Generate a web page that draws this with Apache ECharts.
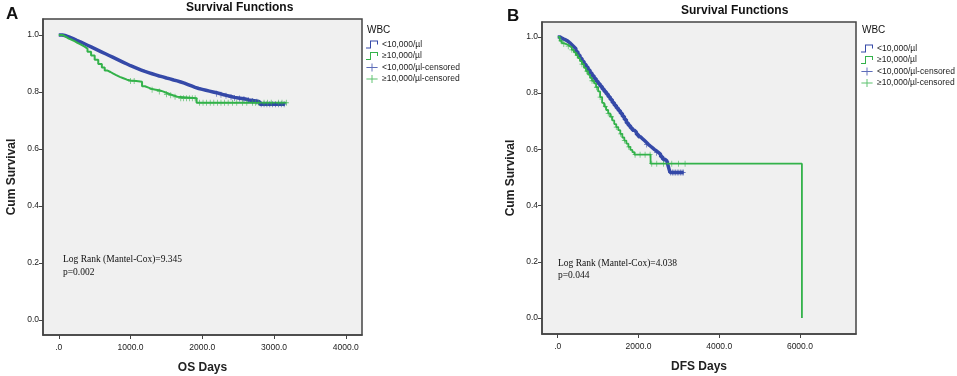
<!DOCTYPE html>
<html>
<head>
<meta charset="utf-8">
<script src="https://cdn.jsdelivr.net/npm/echarts@6/dist/echarts.min.js"></script>
<style>
html, body { margin: 0; background: #fff; }
#chart { width: 957px; height: 376px; }
</style>
</head>
<body>
<div id="chart"></div>
<script>
// 面板A: OS 生存曲线 (KM 阶梯)
var osTimeLow = [0, 50, 100, 150, 200, 250, 300, 350, 400, 450, 500, 550, 600, 650, 700, 750, 800, 850, 900, 950, 1000, 1050, 1100, 1150, 1200, 1250, 1300, 1350, 1400, 1450, 1500, 1550, 1600, 1650, 1700, 1750, 1800, 1850, 1900, 1950, 2000, 2050, 2100, 2150, 2200, 2250, 2300, 2350, 2400, 2450, 2500, 2550, 2600, 2650, 2700, 2750, 2800, 3150];
var osSurvLow = [1.0, 0.997, 0.992, 0.987, 0.981, 0.976, 0.970, 0.964, 0.958, 0.952, 0.946, 0.940, 0.934, 0.928, 0.922, 0.916, 0.910, 0.904, 0.898, 0.892, 0.887, 0.882, 0.877, 0.872, 0.868, 0.864, 0.860, 0.856, 0.853, 0.849, 0.846, 0.842, 0.839, 0.835, 0.831, 0.826, 0.821, 0.816, 0.812, 0.809, 0.806, 0.803, 0.800, 0.797, 0.794, 0.790, 0.787, 0.784, 0.781, 0.779, 0.777, 0.775, 0.772, 0.770, 0.768, 0.766, 0.757, 0.757];
var osTimeHigh = [0, 50, 100, 140, 180, 220, 260, 310, 360, 400, 450, 500, 550, 600, 640, 680, 720, 760, 800, 850, 900, 950, 1000, 1080, 1160, 1200, 1250, 1300, 1350, 1400, 1450, 1500, 1550, 1600, 1650, 1920, 3170];
var osSurvHigh = [1.0, 0.993, 0.987, 0.983, 0.978, 0.972, 0.966, 0.959, 0.952, 0.941, 0.928, 0.913, 0.898, 0.886, 0.875, 0.870, 0.864, 0.859, 0.853, 0.848, 0.843, 0.840, 0.838, 0.836, 0.820, 0.815, 0.810, 0.808, 0.806, 0.802, 0.797, 0.792, 0.788, 0.783, 0.778, 0.762, 0.762];
var osCensLow = [2200, 2260, 2330, 2400, 2450, 2520, 2580, 2640, 2700, 2760, 2820, 2860, 2900, 2940, 2980, 3020, 3060, 3100, 3140];
var osCensHigh = [1000, 1050, 1300, 1400, 1500, 1560, 1620, 1700, 1740, 1780, 1820, 1860, 1900, 1960, 2010, 2060, 2110, 2160, 2210, 2260, 2310, 2360, 2420, 2480, 2560, 2620, 2700, 2740, 2780, 2860, 2910, 2960, 3060, 3110, 3170];

// 面板B: DFS 生存曲线
var dfsTimeLow = [0, 50, 100, 150, 200, 250, 300, 350, 400, 450, 500, 550, 600, 650, 700, 750, 800, 850, 900, 950, 1000, 1050, 1100, 1150, 1200, 1250, 1300, 1350, 1400, 1450, 1500, 1550, 1600, 1650, 1700, 1750, 1800, 1850, 1900, 1950, 2000, 2050, 2100, 2150, 2200, 2250, 2300, 2350, 2400, 2450, 2500, 2550, 2600, 2650, 2700, 2740, 2780, 3120];
var dfsSurvLow = [1.0, 0.996, 0.992, 0.989, 0.985, 0.979, 0.972, 0.965, 0.958, 0.947, 0.936, 0.924, 0.913, 0.903, 0.893, 0.882, 0.872, 0.862, 0.852, 0.842, 0.833, 0.824, 0.815, 0.806, 0.797, 0.787, 0.777, 0.767, 0.757, 0.747, 0.738, 0.728, 0.718, 0.706, 0.694, 0.685, 0.676, 0.668, 0.661, 0.653, 0.645, 0.638, 0.631, 0.624, 0.617, 0.611, 0.605, 0.599, 0.594, 0.588, 0.582, 0.574, 0.565, 0.560, 0.556, 0.539, 0.518, 0.518];
var dfsTimeHigh = [0, 50, 100, 150, 200, 250, 300, 350, 400, 450, 500, 550, 600, 650, 700, 750, 800, 850, 900, 950, 1000, 1050, 1100, 1150, 1200, 1250, 1300, 1350, 1400, 1450, 1500, 1550, 1600, 1650, 1700, 1750, 1800, 1850, 1900, 2300, 6050];
var dfsSurvHigh = [1.0, 0.986, 0.978, 0.975, 0.972, 0.967, 0.962, 0.954, 0.945, 0.935, 0.925, 0.914, 0.903, 0.890, 0.878, 0.866, 0.854, 0.844, 0.835, 0.821, 0.806, 0.786, 0.765, 0.752, 0.740, 0.728, 0.716, 0.703, 0.690, 0.679, 0.668, 0.655, 0.642, 0.631, 0.620, 0.609, 0.598, 0.590, 0.581, 0.549, 0.0];
var dfsCensLow = [2200, 2450, 2620, 2700, 2800, 2840, 2880, 2920, 2960, 3000, 3040, 3080, 3110];
var dfsCensHigh = [80, 150, 260, 350, 480, 600, 720, 850, 960, 1050, 1180, 1250, 1330, 1450, 1560, 1650, 1760, 1916, 2040, 2164, 2288, 2330, 2454, 2618, 2826, 2990, 3155];

// 刻度
var osTicks = [0, 1000, 2000, 3000, 4000];
var dfsTicks = [0, 2000, 4000, 6000];
var survTicks = [0, 0.2, 0.4, 0.6, 0.8, 1.0];

var blue = '#3549a8';
var green = '#33b24a';
var font = 'Liberation Sans, Arial, sans-serif';
var serif = 'Liberation Serif, Times New Roman, serif';

//阶梯查值
function survAt(times, surv, t) {
    var s = surv[0];
    for (var i = 0; i < times.length; i++) {
        if (times[i] <= t) s = surv[i];
    }
    return s;
}
function pairs(times, surv) {
    return times.map(function(t, i) { return [t, surv[i]]; });
}
function censPairs(cens, times, surv) {
    return cens.map(function(t) { return [t, survAt(times, surv, t)]; });
}

var stepIcon = 'path://M0,7H4V0H12V4H11V1H5V8H0Z';
var plusIcon = 'path://M0,4.4H14V5.6H0Z M6.4,0H7.6V10H6.4Z';
var censSymbol = 'path://M0,4.3H10V5.7H0Z M4.3,0H5.7V10H4.3Z';

function xAxisOf(idx, name, min, max, ticks) {
    return {
        gridIndex: idx, type: 'value', min: min, max: max,
        name: name, nameLocation: 'middle', nameGap: 27,
        nameTextStyle: { fontFamily: font, fontWeight: 'bold', fontSize: 12, color: '#222' },
        axisLine: { show: true, onZero: false, lineStyle: { color: '#444', width: 1.5 } },
        axisTick: { show: true, length: 4, customValues: ticks, lineStyle: { color: '#444' } },
        axisLabel: {
            customValues: ticks, fontFamily: font, fontSize: 8.5, color: '#222', margin: 8,
            formatter: function(v) { return v === 0 ? '.0' : v.toFixed(1); }
        },
        splitLine: { show: false }
    };
}
function yAxisOf(idx, min, max) {
    return {
        gridIndex: idx, type: 'value', min: min, max: max,
        name: 'Cum Survival', nameLocation: 'middle', nameGap: 25,
        nameTextStyle: { fontFamily: font, fontWeight: 'bold', fontSize: 12, color: '#222' },
        axisLine: { show: true, onZero: false, lineStyle: { color: '#444', width: 1.5 } },
        axisTick: { show: true, length: 4, customValues: survTicks, lineStyle: { color: '#444' } },
        axisLabel: {
            customValues: survTicks, fontFamily: font, fontSize: 8.5, color: '#222', margin: 4,
            formatter: function(v) { return v.toFixed(1); }
        },
        splitLine: { show: false }
    };
}
function stepSeries(name, idx, data, color, width) {
    return {
        name: name, type: 'line', xAxisIndex: idx, yAxisIndex: idx,
        step: 'end', showSymbol: false, data: data, color: color,
        lineStyle: { color: color, width: width }, z: 2
    };
}
function censSeries(name, idx, data, color) {
    return {
        name: name, type: 'scatter', xAxisIndex: idx, yAxisIndex: idx,
        symbol: censSymbol, symbolSize: [5, 6], data: data, color: color,
        itemStyle: { color: color }, z: 3
    };
}
function legendOf(left, top, names) {
    return {
        orient: 'vertical', left: left, top: top, itemGap: 2.5, padding: 0,
        itemWidth: 14, itemHeight: 8, selectedMode: false,
        textStyle: { fontFamily: font, fontSize: 8.5, color: '#222', padding: [0, 0, 0, -2] },
        data: [
            { name: names[0], icon: stepIcon },
            { name: names[1], icon: stepIcon },
            { name: names[2], icon: plusIcon },
            { name: names[3], icon: plusIcon }
        ]
    };
}
function textEl(x, y, str, size, weight, family) {
    return {
        type: 'text', left: x, top: y,
        style: { text: str, fontSize: size, fontWeight: weight, fontFamily: family, fill: '#111' }
    };
}

var nA = ['<10,000/µl', '≥10,000/µl', '<10,000/µl-censored', '≥10,000/µl-censored'];
var nB = ['<10,000/µl ', '≥10,000/µl ', '<10,000/µl-censored ', '≥10,000/µl-censored '];

var chart = echarts.init(document.getElementById('chart'));
var option = {
    animation: false,
    grid: [
        { left: 43, top: 19, width: 319, height: 316, outerBoundsMode: 'none', show: true, backgroundColor: '#f0f0f0', borderColor: '#444', borderWidth: 1.5 },
        { left: 542, top: 22, width: 314, height: 312, outerBoundsMode: 'none', show: true, backgroundColor: '#f0f0f0', borderColor: '#444', borderWidth: 1.5 }
    ],
    xAxis: [
        xAxisOf(0, 'OS Days', -220, 4225, osTicks),
        xAxisOf(1, 'DFS Days', -390, 7390, dfsTicks)
    ],
    yAxis: [
        yAxisOf(0, -0.053, 1.056),
        yAxisOf(1, -0.057, 1.053)
    ],
    legend: [
        legendOf(366, 40, nA),
        legendOf(861, 44, nB)
    ],
    graphic: [
        textEl(6, 6, 'A', 17, 'bold', font),
        textEl(186, 2, 'Survival Functions', 12, 'bold', font),
        textEl(367, 25, 'WBC', 10, 'normal', font),
        textEl(63, 254, 'Log Rank (Mantel-Cox)=9.345', 9.5, 'normal', serif),
        textEl(63, 267, 'p=0.002', 9.5, 'normal', serif),
        textEl(507, 8, 'B', 17, 'bold', font),
        textEl(681, 5, 'Survival Functions', 12, 'bold', font),
        textEl(862, 25, 'WBC', 10, 'normal', font),
        textEl(558, 258, 'Log Rank (Mantel-Cox)=4.038', 9.5, 'normal', serif),
        textEl(558, 270, 'p=0.044', 9.5, 'normal', serif)
    ],
    series: [
        stepSeries(nA[0], 0, pairs(osTimeLow, osSurvLow), blue, 3.5),
        stepSeries(nA[1], 0, pairs(osTimeHigh, osSurvHigh), green, 2),
        censSeries(nA[2], 0, censPairs(osCensLow, osTimeLow, osSurvLow), blue),
        censSeries(nA[3], 0, censPairs(osCensHigh, osTimeHigh, osSurvHigh), green),
        stepSeries(nB[0], 1, pairs(dfsTimeLow, dfsSurvLow), blue, 3.5),
        stepSeries(nB[1], 1, pairs(dfsTimeHigh, dfsSurvHigh), green, 1.8),
        censSeries(nB[2], 1, censPairs(dfsCensLow, dfsTimeLow, dfsSurvLow), blue),
        censSeries(nB[3], 1, censPairs(dfsCensHigh, dfsTimeHigh, dfsSurvHigh), green)
    ]
};
chart.setOption(option);
</script>
</body>
</html>
